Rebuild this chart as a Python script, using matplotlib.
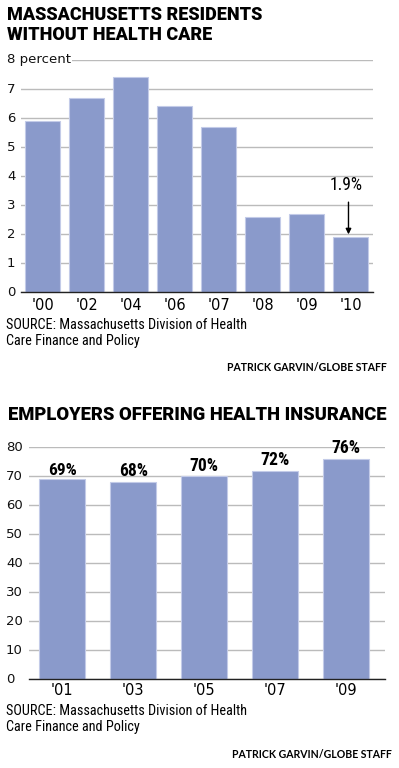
import matplotlib
matplotlib.use("Agg")
import matplotlib.pyplot as plt
from matplotlib import transforms
from matplotlib import font_manager as fm

# ---------------- data ----------------
years_top = ["'00", "'02", "'04", "'06", "'07", "'08", "'09", "'10"]
uninsured_pct = [5.9, 6.7, 7.4, 6.4, 5.7, 2.6, 2.7, 1.9]
yticks_top = [0, 1, 2, 3, 4, 5, 6, 7, 8]
ytick_labels_top = ["0", "1", "2", "3", "4", "5", "6", "7", "8 percent"]

years_bot = ["'01", "'03", "'05", "'07", "'09"]
employers_pct = [69, 68, 70, 72, 76]
yticks_bot = [0, 10, 20, 30, 40, 50, 60, 70, 80]

title_top = "MASSACHUSETTS RESIDENTS\nWITHOUT HEALTH CARE"
title_bot = "EMPLOYERS OFFERING HEALTH INSURANCE"
source = "SOURCE: Massachusetts Division of Health\nCare Finance and Policy"
credit = "PATRICK GARVIN/GLOBE STAFF"

# ---------------- style ----------------
W, H = 399, 768
DPI = 100
BAR = "#8A9ACB"
EDGE = "#C3CBE8"
GRID = "#BBBBBB"


def pick(cands):
    for c in cands:
        try:
            fm.findfont(fm.FontProperties(family=c), fallback_to_default=False)
            return c
        except Exception:
            pass
    return "DejaVu Sans"


NARROW = [pick(["Liberation Sans Narrow", "Roboto Condensed", "Open Sans Condensed",
                "Noto Sans Condensed", "DejaVu Sans"]), "DejaVu Sans"]
HEAVY = [pick(["Roboto", "Liberation Sans", "DejaVu Sans"]), "DejaVu Sans"]
TICKF = ["DejaVu Sans"]

fig = plt.figure(figsize=(W / DPI, H / DPI), dpi=DPI)
fig.canvas.draw()
renderer = fig.canvas.get_renderer()


def fit(t, target_w):
    bb = t.get_window_extent(renderer)
    if bb.width > 0:
        t.set_fontsize(t.get_fontsize() * target_w / bb.width)
    return t


def fit_first_line(t, text, target_w, **kw):
    probe = fig.text(0, 0, text.split("\n")[0], fontsize=t.get_fontsize(), **kw)
    bb = probe.get_window_extent(renderer)
    t.set_fontsize(t.get_fontsize() * target_w / bb.width)
    probe.remove()
    return t


def ax_px(x0, x1, ytop, ybot):
    return fig.add_axes([x0 / W, 1 - ybot / H, (x1 - x0) / W, (ybot - ytop) / H])


def style(ax, ymax):
    for s in ["top", "right", "left"]:
        ax.spines[s].set_visible(False)
    ax.spines["bottom"].set_color("#222222")
    ax.spines["bottom"].set_linewidth(1.0)
    ax.set_ylim(0, ymax)
    ax.tick_params(axis="both", length=0)
    ax.set_yticklabels([])
    ax.set_axisbelow(True)


def ylabels(ax, ticks, labels, xpix, size):
    trans = transforms.blended_transform_factory(fig.transFigure, ax.transData)
    for t, lab in zip(ticks, labels):
        ax.text(xpix / W, t, lab, transform=trans, ha="left", va="center",
                fontsize=size, family=TICKF, color="#111111",
                bbox=dict(facecolor="white", edgecolor="none", pad=1.0),
                clip_on=False, zorder=5)


SRC_KW = dict(family=NARROW, fontstretch="condensed")


def src(ytop):
    t = fig.text(6 / W, 1 - ytop / H, source, ha="left", va="top", fontsize=10.8,
                 linespacing=1.15, **SRC_KW)
    fit_first_line(t, source, 241, **SRC_KW)
    return t


TITLE_KW = dict(family=HEAVY, fontweight="black")

# ---------------- top chart ----------------
tt = fig.text(7 / W, 1 - 6 / H, title_top, ha="left", va="top", fontsize=14,
              linespacing=1.15, **TITLE_KW)
fit_first_line(tt, title_top, 256, **TITLE_KW)

ax1 = ax_px(20.5, 372.7, 60, 292.3)
style(ax1, 8)
x1 = list(range(len(years_top)))
ax1.bar(x1, uninsured_pct, width=0.8, color=BAR, edgecolor=EDGE, linewidth=0.8, zorder=2)
ax1.set_xlim(-0.5, len(years_top) - 0.5)
ax1.set_yticks(yticks_top)
ax1.yaxis.grid(True, color=GRID, linewidth=1.0)
ax1.set_xticks(x1)
ax1.set_xticklabels(years_top, fontsize=10.5, family=TICKF)
ax1.tick_params(axis="x", pad=4)
ylabels(ax1, yticks_top, ytick_labels_top, 7, 9.5)

last = len(uninsured_pct) - 1
ax1.annotate("", xy=(last - 0.05, uninsured_pct[last]), xytext=(last - 0.05, uninsured_pct[last] + 1.3),
             arrowprops=dict(arrowstyle="-|>", color="black", lw=1.0, mutation_scale=8), zorder=6)
lab = ax1.text(last - 0.1, uninsured_pct[last] + 1.5, f"{uninsured_pct[last]}%", ha="center", va="bottom",
               fontsize=12, family=NARROW, fontstretch="condensed", fontweight="normal", color="black")
fit(lab, 33)

src(318)
fig.text(387 / W, 1 - 367.5 / H, credit, ha="right", va="center", fontsize=7.6,
         family=["Lato", "DejaVu Sans"], fontweight="bold")

# ---------------- bottom chart ----------------
tb = fig.text(8 / W, 1 - 415 / H, title_bot, ha="left", va="center", fontsize=13.5, **TITLE_KW)
fit(tb, 378)

ax2 = ax_px(29, 385, 447.3, 679.3)
style(ax2, 80)
x2 = list(range(len(years_bot)))
ax2.bar(x2, employers_pct, width=0.648, color=BAR, edgecolor=EDGE, linewidth=0.8, zorder=2)
ax2.set_xlim(-0.469, len(years_bot) - 1 + 0.549)
ax2.set_yticks(yticks_bot)
ax2.yaxis.grid(True, color=GRID, linewidth=1.0)
ax2.set_xticks(x2)
ax2.set_xticklabels(years_bot, fontsize=10.5, family=TICKF)
ax2.tick_params(axis="x", pad=3)
ylabels(ax2, yticks_bot, [str(t) for t in yticks_bot], 6, 9.5)
for xi, v in zip(x2, employers_pct):
    a = ax2.annotate(f"{v}%", xy=(xi, v), xytext=(0, 1.2), textcoords="offset points",
                     ha="center", va="bottom", fontsize=11.5, family=NARROW,
                     fontstretch="condensed", fontweight="bold")
    fit(a, 29)

src(704)
fig.text(392 / W, 1 - 754.5 / H, credit, ha="right", va="center", fontsize=7.6,
         family=["Lato", "DejaVu Sans"], fontweight="bold")

fig.savefig("out.png", dpi=DPI)
